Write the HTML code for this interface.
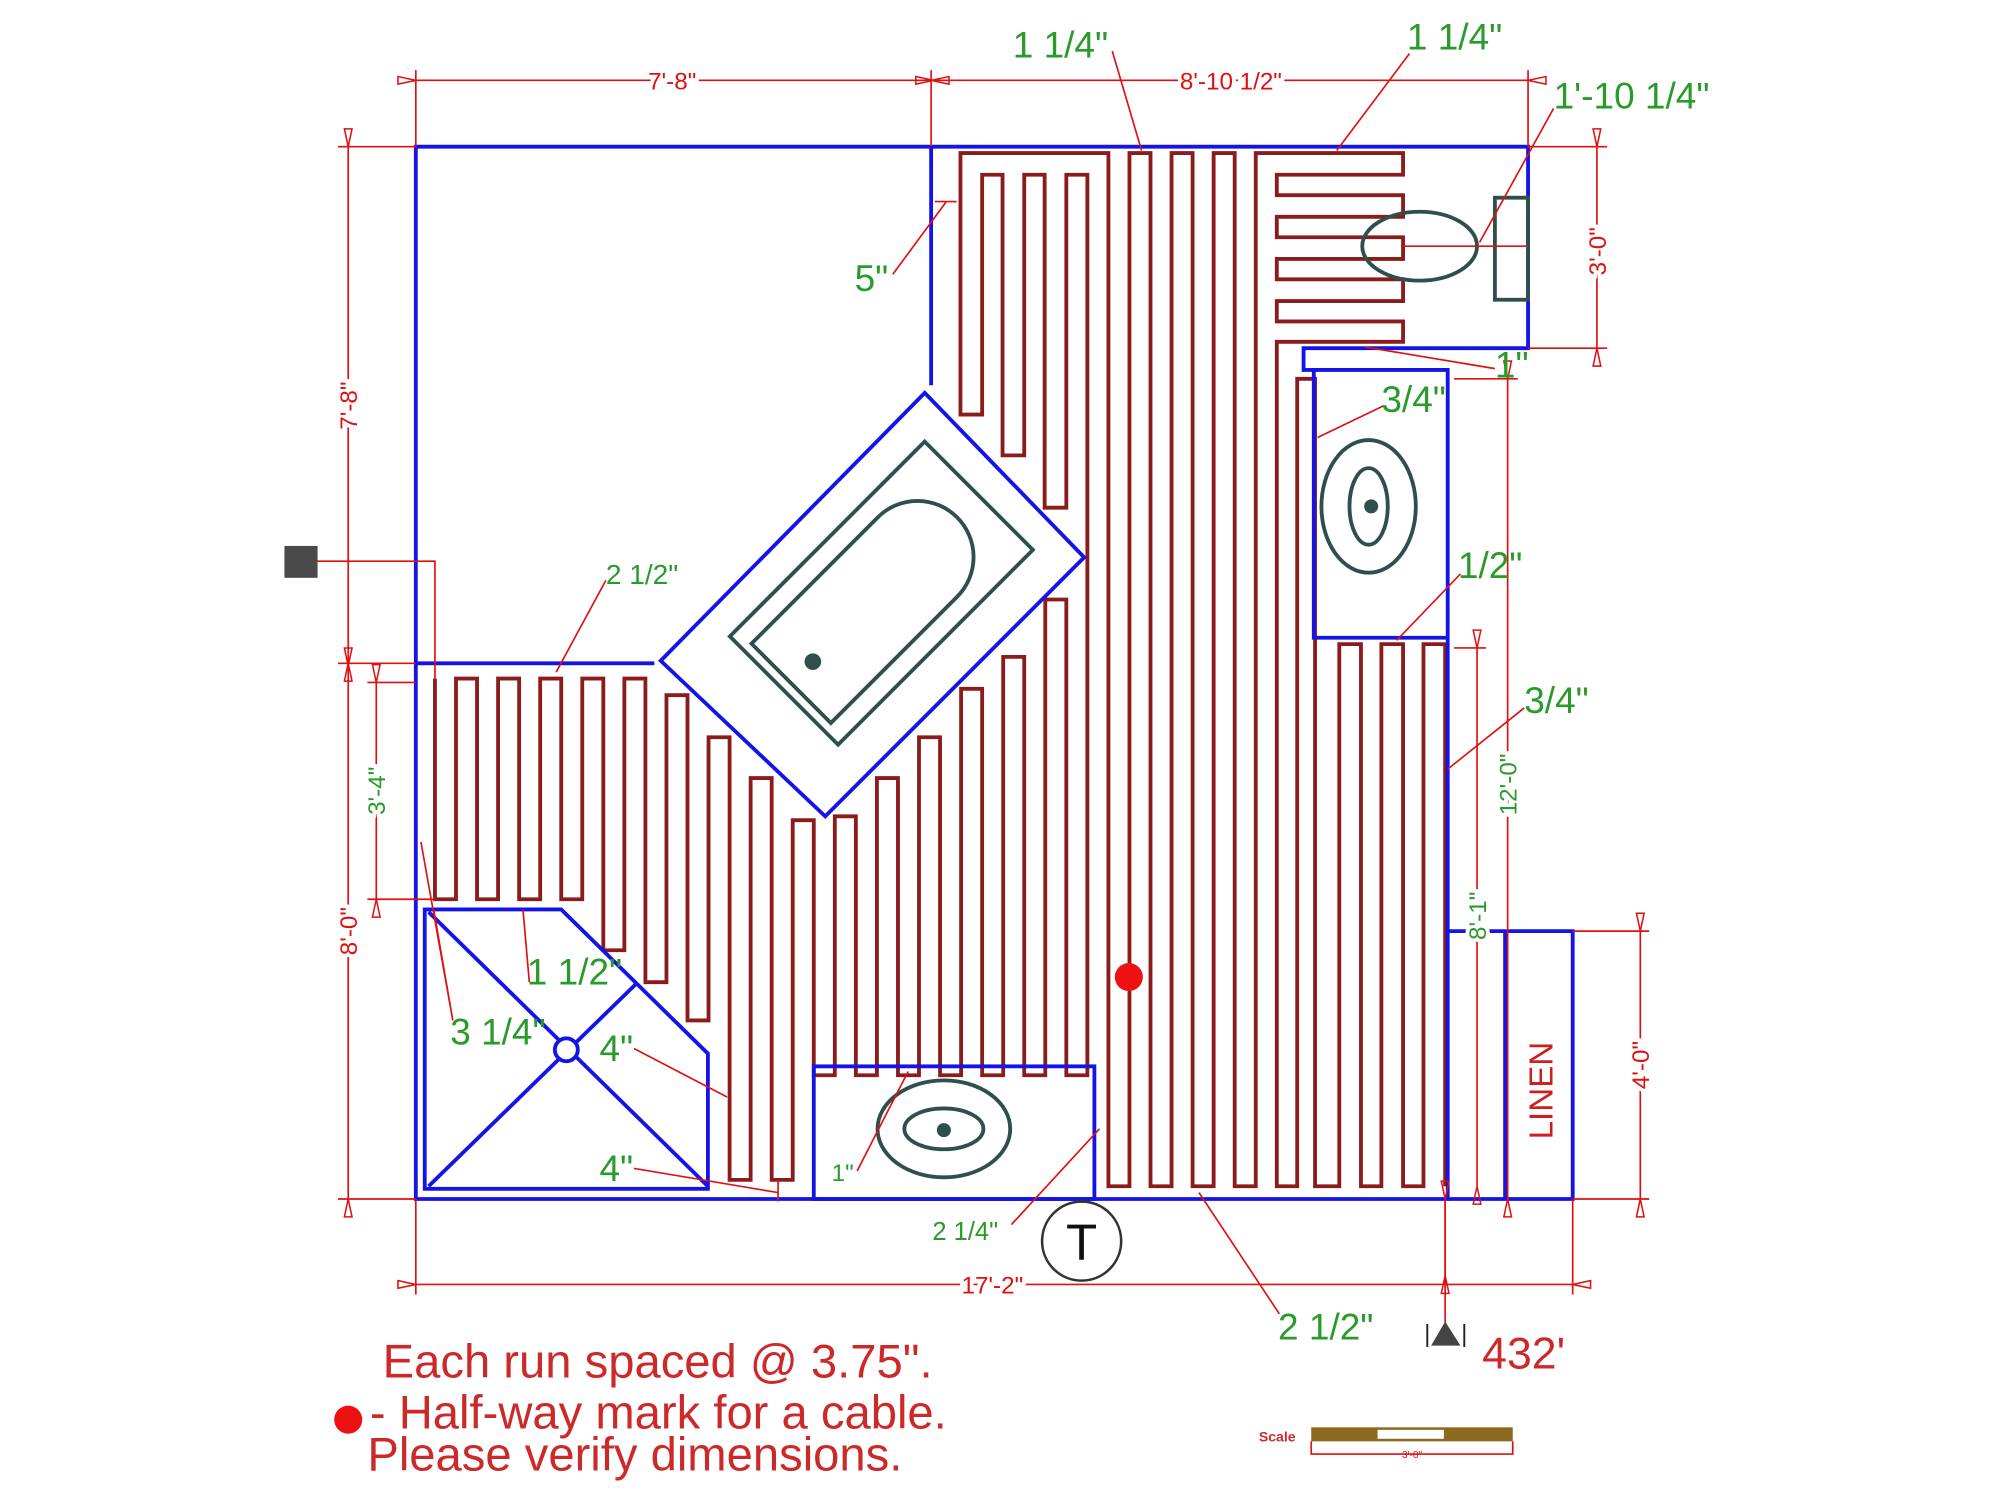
<!DOCTYPE html>
<html><head><meta charset="utf-8"><style>html,body{margin:0;padding:0;background:#fff}svg{display:block}</style></head>
<body>
<svg xmlns="http://www.w3.org/2000/svg" width="2000" height="1499" viewBox="0 0 1568 1175.2" preserveAspectRatio="none" font-family="Liberation Sans, sans-serif">
<defs>
<marker id="ar" viewBox="0 0 16 8" refX="0" refY="4" markerWidth="16" markerHeight="8" markerUnits="userSpaceOnUse" orient="auto-start-reverse">
<path d="M0,4 L14,1 L14,7 Z" fill="none" stroke="#e01010" stroke-width="1.2"/></marker>
</defs>
<rect width="1568" height="1176" fill="#fff"/>

<!-- cable -->
<path fill="none" stroke="#8b1c1c" stroke-width="3" d="M341,532 V705 H357.5 V532 H374 V705 H390.5 V532 H407 V705 H423.5 V532 H440 V705 H456.5 V532 H473 V745 H489.5 V532 H506 V770 H522.5 V545 H539 V800 H555.5 V578 H572 V925 H588.5 V610 H605 V925 H621.5 V643 H638 V843 H654.5 V640 H671 V843 H687.5 V610 H704 V843 H720.5 V578 H737 V843 H753.5 V540 H770 V843 H786.5 V515 H803 V843 H819.5 V470 H836 V843 H852.5 V137 H836 V398 H819 V137 H803 V357 H786 V137 H770 V325 H753 V120 H869 V930 H885.5 V120 H902 V930 H918.5 V120 H935 V930 H951.5 V120 H968 V930 H984.5 V120 H1100 V137 H1001 V153 H1100 V170 H1001 V186 H1100 V203 H1001 V219 H1100 V236 H1001 V252 H1100 V268 H1001 V930 H1017 V297 H1031 V930 H1050 V505 H1067 V930 H1083 V505 H1100 V930 H1116 V505 H1133 V930"/>

<!-- walls -->
<g fill="none" stroke="#1414e6" stroke-width="3">
<path d="M326,115 H1198 V273 H1022 V290 H1135 V940 H326 Z"/>
<path d="M1030,290 V500 H1135"/>
<path d="M730,115 V302"/>
<path d="M326,520 H513"/>
<polygon points="725,308 850,437 647,640 518,518"/>
<polygon points="333,713 440,713 555,826 555,932 333,932"/>
<path d="M336,715 L555,930 M336,930 L498,772"/>
<circle cx="444" cy="823" r="9" fill="#fff"/>
<rect x="638" y="836" width="220" height="104"/>
<path d="M1135,730 H1233 V940 H1135 M1180,730 V940"/>
</g>

<!-- fixtures -->
<g fill="none" stroke="#2f4f4f" stroke-width="3">
<g transform="translate(691,465) rotate(-45)">
<rect x="-108" y="-60" width="216" height="120"/>
<path d="M-100,-44 H40 A44,44 0 0 1 40,44 H-100 Z"/>
<circle cx="-76" cy="0" r="5" fill="#2f4f4f"/>
</g>
<ellipse cx="1073" cy="397" rx="37" ry="52"/>
<ellipse cx="1073" cy="397" rx="15" ry="30"/>
<circle cx="1075" cy="397" r="4" fill="#2f4f4f"/>
<ellipse cx="740" cy="885" rx="52" ry="38"/>
<ellipse cx="740" cy="885" rx="31" ry="16"/>
<circle cx="740" cy="886" r="4" fill="#2f4f4f"/>
<rect x="1172" y="155" width="26" height="80"/>
<ellipse cx="1113" cy="193" rx="45" ry="27"/>
<circle cx="848" cy="973" r="31" stroke="#333" stroke-width="2"/>
</g>
<text x="848" y="988" font-size="40" text-anchor="middle" fill="#111">T</text>
<rect x="223" y="428" width="26" height="25" fill="#4a4a4a"/>

<!-- red lines -->
<g fill="none" stroke="#e01010" stroke-width="1.3">
<path d="M249,440 H341 V532"/>
<path d="M1100,193 H1198"/>
<path d="M326,55 V115 M730,55 V115 M1198,55 V115"/>
<path d="M265,115 H326 M265,520 H326 M265,940 H326 M288,535 H326 M288,705 H341"/>
<path d="M1198,115 H1260 M1198,273 H1260 M1140,297 H1190 M1140,508 H1165 M1233,730 H1293 M1233,940 H1293"/>
<path d="M326,940 V1015 M1233,940 V1015"/>
<path d="M1133,940 V1040"/>
<path d="M872,40 L895,118 M1105,42 L1048,118 M1218,85 L1160,190 M700,215 L742,158 M733,158 H750 M1172,289 L1070,272 M1085,318 L1033,343 M1145,450 L1095,502 M1195,555 L1135,603 M475,455 L436,527 M415,770 L410,713 M355,800 L340,713 M355,800 L330,660 M497,822 L570,860 M497,916 L610,935 M610,925 V942 M672,918 L712,840 M793,960 L862,885 M1003,1030 L940,935"/>
</g>
<g stroke="#e01010" stroke-width="1.3" fill="none" marker-start="url(#ar)" marker-end="url(#ar)">
<line x1="326" y1="63" x2="730" y2="63"/>
<line x1="732" y1="63" x2="1198" y2="63"/>
<line x1="273" y1="115" x2="273" y2="520"/>
<line x1="273" y1="522" x2="273" y2="940"/>
<line x1="295" y1="535" x2="295" y2="705"/>
<line x1="1252" y1="115" x2="1252" y2="273"/>
<line x1="1182" y1="297" x2="1182" y2="940"/>
<line x1="1158" y1="508" x2="1158" y2="930"/>
<line x1="1286" y1="730" x2="1286" y2="940"/>
<line x1="326" y1="1007" x2="1233" y2="1007"/>
<line x1="1133" y1="1000" x2="1133" y2="940"/>
</g>
<g font-size="19" fill="#e01010" text-anchor="middle">
<text x="527" y="70" style="paint-order:stroke" stroke="#fff" stroke-width="6">7'-8"</text>
<text x="965" y="70" style="paint-order:stroke" stroke="#fff" stroke-width="6">8'-10 1/2"</text>
<text x="778" y="1014" style="paint-order:stroke" stroke="#fff" stroke-width="6">17'-2"</text>
<text transform="translate(280,318) rotate(-90)" style="paint-order:stroke" stroke="#fff" stroke-width="6">7'-8"</text>
<text transform="translate(280,730) rotate(-90)" style="paint-order:stroke" stroke="#fff" stroke-width="6">8'-0"</text>
<text transform="translate(1259,197) rotate(-90)" style="paint-order:stroke" stroke="#fff" stroke-width="6">3'-0"</text>
<text transform="translate(1293,835) rotate(-90)" style="paint-order:stroke" stroke="#fff" stroke-width="6">4'-0"</text>
</g>
<g font-size="19" fill="#2a9a2a" text-anchor="middle">
<text transform="translate(302,620) rotate(-90)" style="paint-order:stroke" stroke="#fff" stroke-width="6">3'-4"</text>
<text transform="translate(1189,615) rotate(-90)" style="paint-order:stroke" stroke="#fff" stroke-width="6">12'-0"</text>
<text transform="translate(1165,718) rotate(-90)" style="paint-order:stroke" stroke="#fff" stroke-width="6">8'-1"</text>
</g>
<text transform="translate(1217,855) rotate(-90)" font-size="26" fill="#cc2020" text-anchor="middle">LINEN</text>

<!-- green labels -->
<g fill="#2a9a2a" font-size="29">
<text x="794" y="45">1 1/4"</text>
<text x="1103" y="39">1 1/4"</text>
<text x="1218" y="85">1'-10 1/4"</text>
<text x="670" y="228">5"</text>
<text x="1172" y="296">1"</text>
<text x="1083" y="323">3/4"</text>
<text x="1143" y="453">1/2"</text>
<text x="1195" y="559">3/4"</text>
<text x="413" y="772">1 1/2"</text>
<text x="353" y="819">3 1/4"</text>
<text x="470" y="832">4"</text>
<text x="470" y="926">4"</text>
<text x="1002" y="1050">2 1/2"</text>
</g>
<g fill="#2a9a2a">
<text x="475" y="458" font-size="22">2 1/2"</text>
<text x="652" y="926" font-size="19">1"</text>
<text x="731" y="972" font-size="20">2 1/4"</text>
</g>

<!-- markers -->
<circle cx="885" cy="766" r="11" fill="#ee1111"/>
<path d="M1119,1038 V1056 M1148,1038 V1056" stroke="#222" stroke-width="1.5"/>
<polygon points="1133,1036 1122,1055 1145,1055" fill="#444"/>
<text x="1162" y="1073" font-size="35" fill="#cc2a2a">432'</text>

<!-- notes -->
<g fill="#cc2a2a" font-size="37">
<text x="300" y="1080">Each run spaced @ 3.75".</text>
<text x="290" y="1120">- Half-way mark for a cable.</text>
<text x="288" y="1153">Please verify dimensions.</text>
</g>
<circle cx="273" cy="1113" r="11" fill="#ee1111"/>

<!-- scale -->
<text x="987" y="1130" font-size="11" fill="#cc2a2a" font-weight="bold">Scale</text>
<rect x="1028" y="1119" width="158" height="11" fill="#8b6a20"/>
<rect x="1080" y="1121" width="52" height="7" fill="#fff"/>
<path d="M1028,1130 V1140 H1186 V1130" fill="none" stroke="#e01010" stroke-width="1.3"/>
<text x="1107" y="1143" font-size="8" fill="#e01010" text-anchor="middle">3'-0"</text>
</svg>
</body></html>
